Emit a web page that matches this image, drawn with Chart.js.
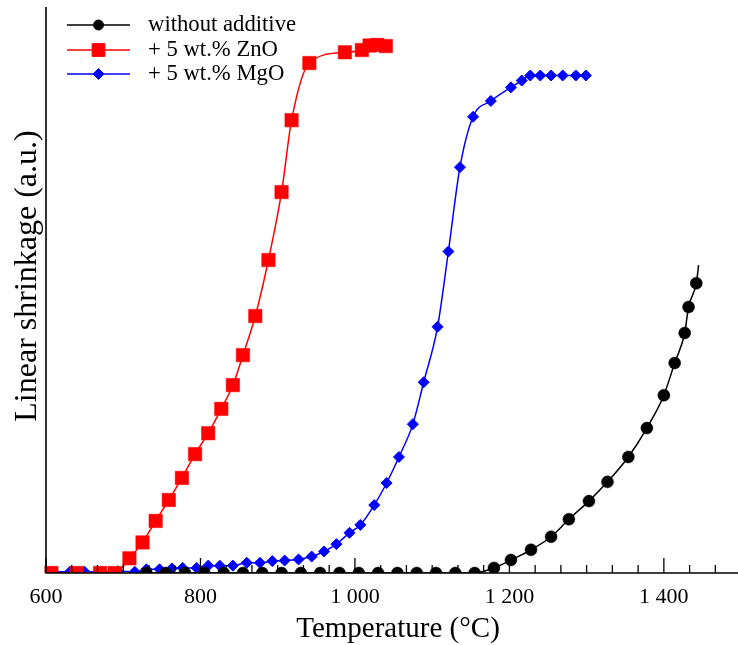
<!DOCTYPE html>
<html>
<head>
<meta charset="utf-8">
<script src="https://cdn.jsdelivr.net/npm/chart.js@4/dist/chart.umd.min.js"></script>
<style>
  html, body { margin: 0; padding: 0; background: #fff; }
</style>
</head>
<body>
<canvas id="shrinkChart" width="738" height="645"></canvas>
<script>
// Dilatometer runs: temperature (°C) vs linear shrinkage (a.u.)
const plainTemp = [730, 755, 780, 805, 830, 855, 880, 905, 930, 955, 980, 1005, 1030, 1055, 1080, 1105, 1130, 1155,
                   1180, 1202, 1228, 1254, 1277, 1303, 1327, 1354, 1378, 1400, 1414, 1427, 1432, 1442, 1445];
const plainShrink = [0, 0, 0, 0, 0, 0, 0, 0, 0, 0, 0, 0, 0, 0, 0, 0, 0, 0,
                     0.9, 2.3, 4.1, 6.4, 9.5, 12.7, 16.1, 20.5, 25.6, 31.4, 37.1, 42.4, 47.0, 51.2, 54.4];

const znoTemp = [607, 640, 670, 689, 708, 725, 742, 759, 776, 793, 810, 827, 842, 855, 871, 888, 905, 918, 941,
                 987, 1009, 1019, 1029, 1040];
const znoShrink = [0, 0, 0, 0, 2.6, 5.4, 9.2, 12.9, 16.8, 21.0, 24.7, 29.0, 33.2, 38.5, 45.4, 55.3, 67.3, 80.0, 90.1,
                   92.0, 92.4, 93.2, 93.3, 93.1];

const mgoTemp = [607, 631, 650, 672, 693, 715, 730, 747, 763, 777, 795, 810, 825, 842, 860, 877, 893, 909, 927, 944,
                 960, 976, 993, 1007, 1025, 1041, 1057, 1075, 1089, 1107, 1121, 1136, 1153, 1176, 1202, 1216,
                 1227, 1240, 1254, 1269, 1286, 1299];
const mgoShrink = [0.2, 0.2, 0.2, 0.2, 0.3, 0.2, 0.65, 0.65, 0.8, 0.9, 0.9, 1.3, 1.3, 1.3, 1.8, 1.8, 2.1, 2.2, 2.4, 2.9,
                   3.8, 5.1, 7.1, 8.5, 12.0, 15.9, 20.5, 26.3, 33.7, 43.5, 56.8, 71.7, 80.6, 83.4, 85.8, 87.0,
                   87.9, 87.9, 87.9, 87.9, 87.9, 87.9];

const seriesLabels = ['without additive', '+ 5 wt.% ZnO', '+ 5 wt.% MgO'];
const xTitle = 'Temperature (°C)';
const yTitle = 'Linear shrinkage (a.u.)';

// x ticks: labelled every 200 °C, five unlabelled ones in between
const xMin = 600, xMax = 1496;
const xTickValues = [];
for (let i = 0; i <= 26; i++) xTickValues.push(xMin + i * 200 / 6);

const serif = '"Liberation Serif", "Times New Roman", serif';

function isMajor(v) {
    const k = (v - xMin) / 200;
    return Math.abs(k - Math.round(k)) < 1e-6;
}

function fmtThousands(v) {
    return String(Math.round(v)).replace(/\B(?=(\d{3})+(?!\d))/g, ' ');
}

function toPoints(xs, ys) {
    return xs.map((x, i) => ({ x: x, y: ys[i] }));
}

// the black curve runs on a bit past its last marker
const plainRadius = plainTemp.map((t, i) => i === plainTemp.length - 1 ? 0 : 6);

const clipBox = { left: 6, top: 10, right: 0, bottom: 0 };

// axes drawn by hand so ticks can point inwards; titles placed here too
const inwardAxes = {
    id: 'inwardAxes',
    afterDatasetsDraw(chart) {
        const { ctx, chartArea: a, scales: { x } } = chart;
        ctx.save();
        ctx.strokeStyle = '#000';
        ctx.lineWidth = 1.6;
        ctx.beginPath();
        ctx.moveTo(a.left, a.top);
        ctx.lineTo(a.left, a.bottom);
        ctx.lineTo(a.right, a.bottom);
        ctx.stroke();
        ctx.lineWidth = 1.3;
        x.ticks.forEach(t => {
            const px = x.getPixelForValue(t.value);
            ctx.beginPath();
            ctx.moveTo(px, a.bottom);
            ctx.lineTo(px, a.bottom - (isMajor(t.value) ? 15 : 8));
            ctx.stroke();
        });

        ctx.fillStyle = '#000';
        ctx.textAlign = 'center';
        ctx.textBaseline = 'alphabetic';
        ctx.font = '29px ' + serif;
        ctx.fillText(xTitle, 398, 637);

        ctx.translate(36, 276);
        ctx.rotate(-Math.PI / 2);
        ctx.font = '32px ' + serif;
        ctx.fillText(yTitle, 0, 0);
        ctx.restore();
    }
};

// legend with a short line through each marker
const lineLegend = {
    id: 'lineLegend',
    afterDraw(chart) {
        const ctx = chart.ctx;
        const rows = [25, 50, 74];
        const sizes = [5, 9, 5.5];
        ctx.save();
        chart.data.datasets.forEach((ds, i) => {
            const y = rows[i];
            ctx.strokeStyle = ds.borderColor;
            ctx.lineWidth = 1.5;
            ctx.beginPath();
            ctx.moveTo(67, y);
            ctx.lineTo(130, y);
            ctx.stroke();
            ctx.fillStyle = ds.pointBackgroundColor;
            ctx.strokeStyle = ds.pointBorderColor;
            ctx.lineWidth = 1;
            Chart.helpers.drawPoint(ctx, { pointStyle: ds.pointStyle, radius: sizes[i], borderWidth: 1, rotation: 0 }, 98.5, y);
            ctx.fillStyle = '#000';
            ctx.font = '22.7px ' + serif;
            ctx.textBaseline = 'middle';
            ctx.textAlign = 'left';
            ctx.fillText(ds.label, 148, y);
        });
        ctx.restore();
    }
};

new Chart(document.getElementById('shrinkChart'), {
    type: 'line',
    data: {
        datasets: [
            {
                label: seriesLabels[0],
                data: toPoints(plainTemp, plainShrink),
                borderColor: '#000',
                pointBackgroundColor: '#000',
                pointBorderColor: '#000',
                pointStyle: 'circle',
                pointRadius: plainRadius,
                pointBorderWidth: 0.5,
                borderWidth: 1.5,
                cubicInterpolationMode: 'monotone',
                clip: clipBox
            },
            {
                label: seriesLabels[1],
                data: toPoints(znoTemp, znoShrink),
                borderColor: '#ff0000',
                pointBackgroundColor: '#ff0000',
                pointBorderColor: '#ff0000',
                pointStyle: 'rect',
                pointRadius: 9.5,
                pointBorderWidth: 0.5,
                borderWidth: 1.5,
                cubicInterpolationMode: 'monotone',
                clip: clipBox
            },
            {
                label: seriesLabels[2],
                data: toPoints(mgoTemp, mgoShrink),
                borderColor: '#0000ff',
                pointBackgroundColor: '#0000ff',
                pointBorderColor: '#0000ff',
                pointStyle: 'rectRot',
                pointRadius: 5.5,
                pointBorderWidth: 1,
                borderWidth: 1.5,
                cubicInterpolationMode: 'monotone',
                clip: clipBox
            }
        ]
    },
    options: {
        responsive: false,
        animation: false,
        layout: { autoPadding: false, padding: { top: 7, right: 0, bottom: 0, left: 0 } },
        plugins: {
            legend: { display: false },
            tooltip: { enabled: false }
        },
        scales: {
            x: {
                type: 'linear',
                min: xMin,
                max: xMax,
                afterBuildTicks: s => { s.ticks = xTickValues.map(v => ({ value: v })); },
                afterFit: s => {
                    s.height = 72;
                    s.paddingLeft = 0;
                    s.paddingRight = 0;
                },
                grid: { display: false, drawTicks: false },
                border: { display: false },
                ticks: {
                    autoSkip: false,
                    maxRotation: 0,
                    padding: 11,
                    color: '#000',
                    font: { family: serif, size: 22 },
                    callback: v => isMajor(v) ? fmtThousands(v) : ''
                },
                title: { display: false }
            },
            y: {
                min: 0,
                max: 100,
                afterFit: s => {
                    s.width = 46;
                    s.paddingTop = 0;
                    s.paddingBottom = 0;
                },
                grid: { display: false, drawTicks: false },
                border: { display: false },
                ticks: { display: false },
                title: { display: false }
            }
        }
    },
    plugins: [inwardAxes, lineLegend]
});
</script>
</body>
</html>
